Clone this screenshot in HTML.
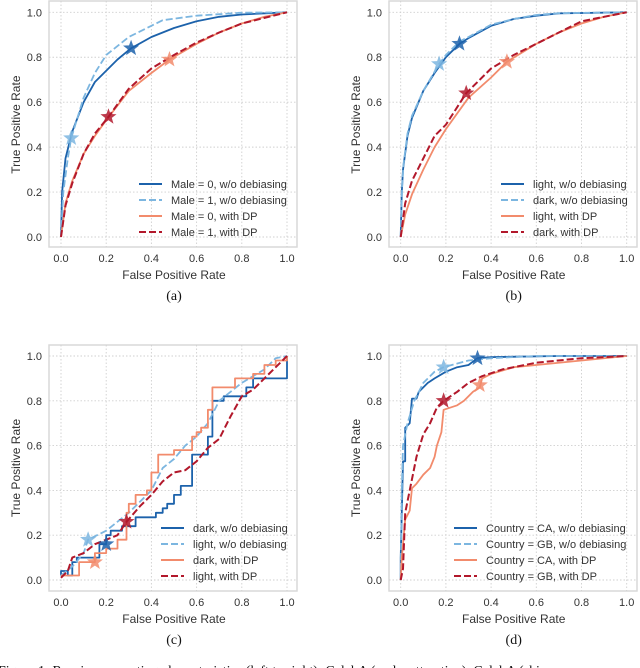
<!DOCTYPE html>
<html><head><meta charset="utf-8">
<style>
html,body{margin:0;padding:0;background:#fff;width:640px;height:668px;overflow:hidden}
svg{display:block}
text{font-family:"Liberation Sans",sans-serif;fill:#333}
.cap{font-family:"Liberation Serif",serif;fill:#111}
</style></head>
<body>
<svg id="fig" width="640" height="668" viewBox="0 0 640 668">
<text class="cap" x="-2" y="675" font-size="14">Figure 1: Receiver operating characteristics (left to right): CelebA (male, attractive), CelebA (skin</text>
</svg>
<script>
// ---- data ----
const ticks=[0,0.2,0.4,0.6,0.8,1.0];
const tickLabels=["0.0","0.2","0.4","0.6","0.8","1.0"];
const panelLetters=["(a)","(b)","(c)","(d)"];
const legendA=["Male = 0, w/o debiasing","Male = 1, w/o debiasing","Male = 0, with DP","Male = 1, with DP"];
const legendB=["light, w/o debiasing","dark, w/o debiasing","light, with DP","dark, with DP"];
const legendC=["dark, w/o debiasing","light, w/o debiasing","dark, with DP","light, with DP"];
const legendD=["Country = CA, w/o debiasing","Country = GB, w/o debiasing","Country = CA, with DP","Country = GB, with DP"];
const a0=[[0,0],[0.005,0.2],[0.02,0.35],[0.05,0.47],[0.1,0.6],[0.15,0.69],[0.2,0.74],[0.25,0.79],[0.31,0.84],[0.4,0.89],[0.5,0.93],[0.6,0.96],[0.7,0.98],[0.8,0.99],[1,1]];
const a1=[[0,0],[0.01,0.2],[0.03,0.35],[0.045,0.44],[0.1,0.62],[0.15,0.73],[0.2,0.81],[0.3,0.89],[0.4,0.94],[0.45,0.965],[0.6,0.985],[0.8,0.998],[1,1]];
const a2=[[0,0],[0.02,0.15],[0.05,0.25],[0.1,0.37],[0.15,0.45],[0.2,0.52],[0.3,0.65],[0.4,0.73],[0.48,0.79],[0.6,0.86],[0.7,0.91],[0.8,0.95],[0.9,0.98],[1,1]];
const a3=[[0,0],[0.02,0.14],[0.05,0.24],[0.1,0.37],[0.15,0.46],[0.21,0.535],[0.3,0.66],[0.4,0.75],[0.5,0.81],[0.6,0.865],[0.7,0.91],[0.8,0.95],[0.9,0.975],[1,1]];
const aStars=[[0.31,0.84],[0.045,0.44],[0.48,0.79],[0.21,0.535]];
const b0=[[0,0],[0.005,0.2],[0.01,0.3],[0.03,0.45],[0.05,0.53],[0.1,0.65],[0.15,0.73],[0.2,0.8],[0.26,0.86],[0.3,0.885],[0.4,0.94],[0.5,0.97],[0.6,0.985],[0.7,0.995],[1,1]];
const b1=[[0,0],[0.006,0.22],[0.012,0.32],[0.03,0.46],[0.05,0.54],[0.1,0.65],[0.17,0.77],[0.2,0.81],[0.26,0.87],[0.3,0.89],[0.4,0.945],[0.5,0.97],[0.6,0.988],[0.7,0.996],[1,1]];
const b2=[[0,0],[0.02,0.1],[0.05,0.19],[0.1,0.3],[0.15,0.4],[0.2,0.48],[0.3,0.62],[0.4,0.71],[0.47,0.78],[0.6,0.86],[0.7,0.91],[0.8,0.95],[0.9,0.98],[1,1]];
const b3=[[0,0],[0.02,0.15],[0.05,0.25],[0.1,0.35],[0.15,0.45],[0.2,0.5],[0.29,0.64],[0.4,0.75],[0.5,0.81],[0.6,0.86],[0.7,0.91],[0.8,0.96],[0.9,0.98],[1,1]];
const bStars=[[0.26,0.86],[0.17,0.77],[0.47,0.78],[0.29,0.64]];
const c0=[[0,0.02],[0,0.04],[0.03,0.04],[0.03,0.02],[0.05,0.02],[0.05,0.08],[0.07,0.08],[0.07,0.1],[0.17,0.1],[0.17,0.16],[0.2,0.16],[0.2,0.2],[0.22,0.2],[0.22,0.22],[0.27,0.22],[0.27,0.24],[0.33,0.24],[0.33,0.28],[0.42,0.28],[0.42,0.3],[0.45,0.3],[0.45,0.32],[0.47,0.32],[0.47,0.34],[0.5,0.34],[0.5,0.38],[0.53,0.38],[0.53,0.42],[0.58,0.42],[0.58,0.56],[0.65,0.56],[0.65,0.64],[0.67,0.64],[0.67,0.8],[0.72,0.8],[0.72,0.82],[0.82,0.82],[0.82,0.86],[0.85,0.86],[0.85,0.9],[1,0.9],[1,1]];
const c1=[[0,0.02],[0.05,0.06],[0.1,0.12],[0.12,0.18],[0.2,0.22],[0.3,0.3],[0.4,0.4],[0.45,0.5],[0.5,0.54],[0.55,0.6],[0.6,0.64],[0.65,0.7],[0.7,0.8],[0.8,0.88],[0.9,0.94],[0.95,0.99],[1,1]];
const c2=[[0,0.02],[0.08,0.02],[0.08,0.08],[0.15,0.08],[0.15,0.12],[0.2,0.12],[0.2,0.14],[0.25,0.14],[0.25,0.18],[0.29,0.18],[0.29,0.3],[0.3,0.3],[0.3,0.34],[0.33,0.34],[0.33,0.38],[0.38,0.38],[0.38,0.4],[0.4,0.4],[0.4,0.48],[0.43,0.48],[0.43,0.56],[0.5,0.56],[0.5,0.58],[0.58,0.58],[0.58,0.64],[0.6,0.64],[0.6,0.66],[0.62,0.66],[0.62,0.68],[0.65,0.68],[0.65,0.76],[0.67,0.76],[0.67,0.86],[0.77,0.86],[0.77,0.9],[0.85,0.9],[0.85,0.92],[0.9,0.92],[0.9,0.96],[0.95,0.96],[0.95,0.98],[1,0.98],[1,1]];
const c3=[[0,0.01],[0.03,0.04],[0.05,0.1],[0.1,0.12],[0.15,0.16],[0.2,0.18],[0.25,0.2],[0.29,0.26],[0.35,0.33],[0.4,0.38],[0.45,0.44],[0.5,0.48],[0.55,0.49],[0.6,0.53],[0.65,0.59],[0.7,0.63],[0.75,0.73],[0.8,0.82],[0.85,0.85],[0.9,0.9],[0.95,0.95],[1,1]];
const cStars=[[0.2,0.16],[0.12,0.18],[0.15,0.08],[0.29,0.26]];
const d0=[[0,0],[0,0.1],[0.005,0.3],[0.01,0.53],[0.02,0.53],[0.02,0.68],[0.04,0.7],[0.05,0.81],[0.07,0.81],[0.08,0.84],[0.1,0.86],[0.12,0.88],[0.15,0.9],[0.2,0.93],[0.25,0.95],[0.3,0.96],[0.34,0.99],[0.4,0.995],[0.7,1],[1,1]];
const d1=[[0,0],[0.005,0.4],[0.01,0.6],[0.03,0.7],[0.06,0.8],[0.1,0.88],[0.15,0.93],[0.19,0.95],[0.3,0.98],[0.4,0.99],[0.6,1],[1,1]];
const d2=[[0,0],[0.005,0.1],[0.02,0.27],[0.04,0.31],[0.05,0.41],[0.07,0.43],[0.1,0.47],[0.13,0.5],[0.15,0.55],[0.16,0.6],[0.18,0.66],[0.19,0.76],[0.25,0.78],[0.28,0.8],[0.32,0.84],[0.35,0.86],[0.36,0.9],[0.4,0.92],[0.5,0.95],[0.6,0.96],[0.8,0.98],[1,1]];
const d3=[[0,0],[0.01,0.05],[0.02,0.3],[0.04,0.4],[0.07,0.55],[0.1,0.65],[0.13,0.7],[0.16,0.77],[0.19,0.8],[0.25,0.84],[0.3,0.88],[0.36,0.91],[0.45,0.94],[0.6,0.97],[0.8,0.99],[1,1]];
const dStars=[[0.34,0.99],[0.19,0.95],[0.35,0.87],[0.19,0.8]];

const colors=["#1c62ab","#7cb6e0","#f28b6c","#b2182b"];
const dashes=[null,"7,3",null,"7,3"];
const NS="http://www.w3.org/2000/svg";
const svg=document.getElementById('fig');
function mk(tag,attrs,parent){const e=document.createElementNS(NS,tag);for(const k in attrs)e.setAttribute(k,attrs[k]);(parent||svg).appendChild(e);return e;}

const panels=[
 {fx:49,fy:1,x0:61,x1:287,y0:237,y1:12.3,series:[a0,a1,a2,a3],stars:aStars,legend:legendA,lx:139,ly:184,name:'a'},
 {fx:389,fy:1,x0:400.7,x1:626.7,y0:237,y1:12.3,series:[b0,b1,b2,b3],stars:bStars,legend:legendB,lx:501,ly:184,name:'b'},
 {fx:49,fy:345,x0:61,x1:287,y0:580,y1:356,series:[c0,c1,c2,c3],stars:cStars,legend:legendC,lx:161,ly:528,name:'c'},
 {fx:389,fy:345,x0:400.7,x1:626.7,y0:580,y1:356,series:[d0,d1,d2,d3],stars:dStars,legend:legendD,lx:454,ly:528,name:'d'}
];
function starPts(cx,cy,R,r){let p=[];for(let i=0;i<10;i++){const a=-Math.PI/2+i*Math.PI/5;const rr=i%2?r:R;p.push((cx+rr*Math.cos(a)).toFixed(1)+","+(cy+rr*Math.sin(a)).toFixed(1));}return p.join(" ");}

panels.forEach((P,pi)=>{
  const g=mk('g',{});
  
  
  const sx=v=>P.x0+v*(P.x1-P.x0), sy=v=>P.y0+v*(P.y1-P.y0);
  const fr=mk('rect',{x:P.fx,y:P.fy,width:248,height:246,fill:'#fff',stroke:'#d9d9d9','stroke-width':1.5},g);
  
  
  ticks.forEach((t,i)=>{
    const gx=mk('line',{x1:sx(t),x2:sx(t),y1:P.fy,y2:P.fy+246,stroke:'#cfcfcf','stroke-dasharray':'1.5,2','stroke-width':0.9},g);
    
    
    const gy=mk('line',{x1:P.fx,x2:P.fx+248,y1:sy(t),y2:sy(t),stroke:'#cfcfcf','stroke-dasharray':'1.5,2','stroke-width':0.9},g);
    
    
    const xt=mk('text',{x:sx(t),y:P.fy+262-1,'font-size':11,'text-anchor':'middle'},g);xt.textContent=tickLabels[i];
    
    
    const yt=mk('text',{x:P.fx-7,y:sy(t)+4,'font-size':11,'text-anchor':'end'},g);yt.textContent=tickLabels[i];
    
    
  });
  const xl=mk('text',{x:(P.x0+P.x1)/2,y:P.fy+278,'font-size':12,'text-anchor':'middle'},g);xl.textContent='False Positive Rate';
  
  
  const ycx=P.fx-29, ycy=(P.y0+P.y1)/2;
  const yl=mk('text',{x:ycx,y:ycy,'font-size':12,'text-anchor':'middle',transform:`rotate(-90 ${ycx} ${ycy})`},g);yl.textContent='True Positive Rate';
  
  
  const cp=mk('text',{x:(P.x0+P.x1)/2,y:P.fy+299,'font-size':14,'text-anchor':'middle','class':'cap'},g);cp.textContent=panelLetters[pi];
  
  
  P.series.forEach((s,si)=>{
    const d=s.map((p,i)=>(i?'L':'M')+sx(p[0]).toFixed(1)+','+sy(p[1]).toFixed(1)).join('');
    const at={d:d,fill:'none',stroke:colors[si],'stroke-width':si==3?2:1.8,'stroke-linejoin':'round'};
    if(dashes[si])at['stroke-dasharray']=dashes[si];
    const pth=mk('path',at,g);
    
    
  });
  P.stars.forEach((p,si)=>{
    const st=mk('polygon',{points:starPts(sx(p[0]),sy(p[1]),8.5,3.5),fill:colors[si],'fill-opacity':0.85},g);
    
    
  });
  P.legend.forEach((lab,li)=>{
    const y=P.ly+li*16;
    const at={x1:P.lx,x2:P.lx+23,y1:y,y2:y,stroke:colors[li],'stroke-width':2};
    if(dashes[li])at['stroke-dasharray']=dashes[li];
    const ln=mk('line',at,g);
    
    
    const tx=mk('text',{x:P.lx+32,y:y+4,'font-size':11},g);tx.textContent=lab;
    
    
  });
});
</script>
</body></html>
